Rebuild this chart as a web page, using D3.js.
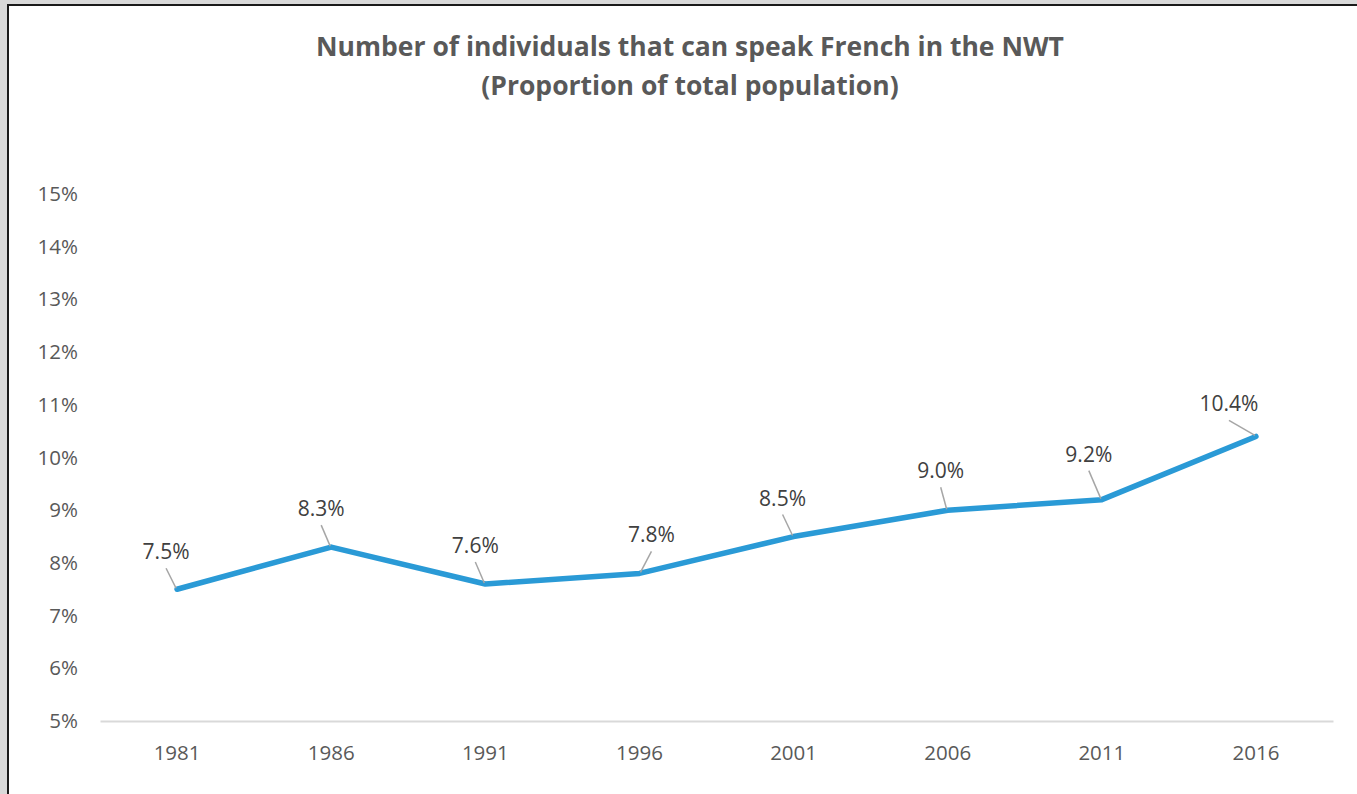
<!DOCTYPE html>
<html>
<head>
<meta charset="utf-8">
<script src="https://cdn.jsdelivr.net/npm/d3@7"></script>
<style>
  body { margin: 0; background: #d9d9d9; }
  svg { display: block; font-family: "Open Sans", sans-serif; }
</style>
</head>
<body>
<script>
// data
var years = ["1981", "1986", "1991", "1996", "2001", "2006", "2011", "2016"];
var shares = [7.5, 8.3, 7.6, 7.8, 8.5, 9.0, 9.2, 10.4];
var yTicks = [5, 6, 7, 8, 9, 10, 11, 12, 13, 14, 15];
var titleLines = ["Number of individuals that can speak French in the NWT", "(Proportion of total population)"];
// where each data label sits relative to its point (px)
var labelDx = [-11, -10, -10, 12, -11, -7, -13, -27];
var labelDy = [-30, -31, -31, -31, -31, -32, -38, -25];

var W = 1357, H = 794;
var svg = d3.select("body").append("svg")
  .attr("width", W)
  .attr("height", H);

// white chart area with dark frame
svg.append("rect")
  .attr("x", 8).attr("y", 5)
  .attr("width", W + 10).attr("height", H + 10)
  .attr("fill", "#fff")
  .attr("stroke", "#1a1a1a")
  .attr("stroke-width", 2);

var x = d3.scaleBand().domain(years).range([100, 1333]);
var y = d3.scaleLinear().domain([5, 15]).range([721, 194]);

// title
svg.append("g").selectAll("text")
  .data(titleLines)
  .enter().append("text")
  .attr("x", 690)
  .attr("y", function(d, i) { return 56 + i * 39; })
  .attr("text-anchor", "middle")
  .attr("font-size", 26.5)
  .attr("font-weight", "bold")
  .attr("fill", "#595959")
  .text(function(d) { return d; });

// y axis labels (no line)
var yAxis = svg.append("g")
  .attr("transform", "translate(100,0)")
  .call(d3.axisLeft(y).tickValues(yTicks).tickSize(0).tickPadding(22)
    .tickFormat(function(d) { return d + "%"; }));
yAxis.select(".domain").remove();
yAxis.selectAll("text")
  .attr("font-family", "Open Sans, sans-serif")
  .attr("font-size", 20.5)
  .attr("fill", "#595959");

// x axis
var xAxis = svg.append("g")
  .attr("transform", "translate(0,721)")
  .call(d3.axisBottom(x).tickSize(0).tickPadding(24));
xAxis.select(".domain").attr("stroke", "#d9d9d9").attr("stroke-width", 2);
xAxis.selectAll("text")
  .attr("font-family", "Open Sans, sans-serif")
  .attr("font-size", 20.5)
  .attr("fill", "#595959");

var cx = function(d, i) { return x(years[i]) + x.bandwidth() / 2; };

// the line
var line = d3.line()
  .x(function(d, i) { return cx(d, i); })
  .y(function(d) { return y(d); });

svg.append("path")
  .datum(shares)
  .attr("fill", "none")
  .attr("stroke", "#2a9ad6")
  .attr("stroke-width", 5.5)
  .attr("stroke-linejoin", "round")
  .attr("stroke-linecap", "round")
  .attr("d", line);

// leader lines
svg.append("g").selectAll("line")
  .data(shares)
  .enter().append("line")
  .attr("x1", function(d, i) { return cx(d, i) + labelDx[i]; })
  .attr("y1", function(d, i) { return y(d) + labelDy[i] + 9; })
  .attr("x2", function(d, i) { return cx(d, i) - (labelDx[i] > 0 ? -1 : 1); })
  .attr("y2", function(d) { return y(d) - 1; })
  .attr("stroke", "#a6a6a6")
  .attr("stroke-width", 1.5);

// data labels
svg.append("g").selectAll("text")
  .data(shares)
  .enter().append("text")
  .attr("x", function(d, i) { return cx(d, i) + labelDx[i]; })
  .attr("y", function(d, i) { return y(d) + labelDy[i]; })
  .attr("text-anchor", "middle")
  .attr("font-size", 21)
  .attr("fill", "#404040")
  .text(function(d) { return d.toFixed(1) + "%"; });
</script>
</body>
</html>
